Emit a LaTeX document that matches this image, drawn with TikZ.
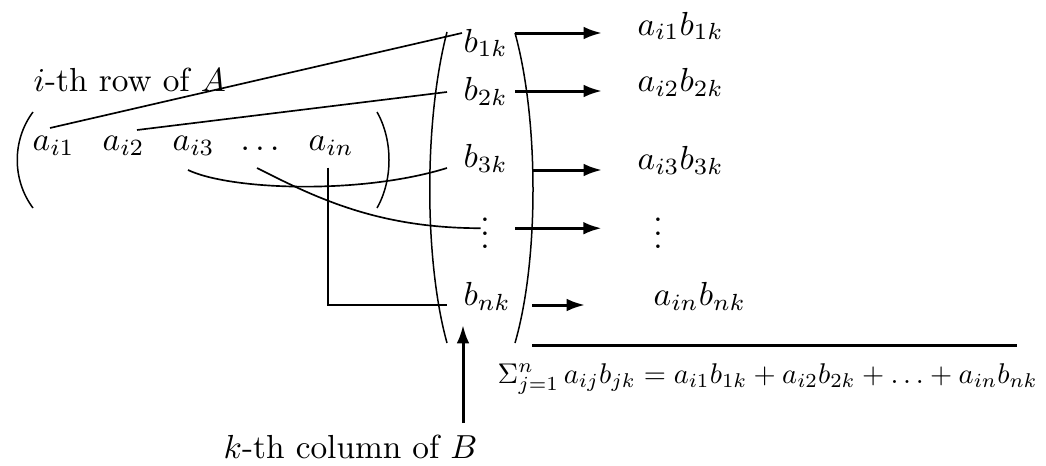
\documentclass[tikz,border=0pt]{standalone}
\usetikzlibrary{arrows.meta}
\begin{document}
\begin{tikzpicture}[x=0.3pt,y=-0.3pt,
  lbl/.style={inner sep=0pt, anchor=base west},
  vd/.style={inner sep=0pt, anchor=south},
  conn/.style={line width=0.5pt},
  brk/.style={line width=0.45pt},
  arr/.style={line width=0.9pt,-{Latex[length=5.5pt,width=3.8pt]}},
  rulel/.style={line width=0.9pt}]
\useasboundingbox (0,0) rectangle (1046,465);
% brackets
\draw[brk] (33,112) .. controls (12,140) and (12,180) .. (33,208);
\draw[brk] (377,112) .. controls (393,140) and (393,180) .. (377,208);
\draw[brk] (447,32) .. controls (424,120) and (424,260) .. (447,343);
\draw[brk] (515,33) .. controls (539,120) and (539,260) .. (515,343);
% labels
\node[lbl] (rowA) at (33,91) {$i$-th row of $A$};
\node[lbl] (a1) at (32,150) {$a_{i1}$};
\node[lbl] (a2) at (102,150) {$a_{i2}$};
\node[lbl] (a3) at (172,150) {$a_{i3}$};
\node[lbl] (adots) at (240,150) {$\ldots$};
\node[lbl] (an) at (308,150) {$a_{in}$};
\node[lbl] (b1) at (463,52) {$b_{1k}$};
\node[lbl] (b2) at (463,100) {$b_{2k}$};
\node[lbl] (b3) at (463,167) {$b_{3k}$};
\node[vd] (bdots) at (485,249) {$\vdots$};
\node[lbl] (bn) at (463,305) {$b_{nk}$};
\node[lbl] (p1) at (637,35) {$a_{i1}b_{1k}$};
\node[lbl] (p2) at (637,91) {$a_{i2}b_{2k}$};
\node[lbl] (p3) at (637,169) {$a_{i3}b_{3k}$};
\node[vd] (pdots) at (658,249) {$\vdots$};
\node[lbl] (pn) at (653,305) {$a_{in}b_{nk}$};
\node[lbl] (kcol) at (223,458) {$k$-th column of $B$};
\node[lbl] (sum) at (497,383) {\resizebox{162pt}{!}{$\Sigma_{j=1}^{n}\,a_{ij}b_{jk} = a_{i1}b_{1k}+a_{i2}b_{2k}+\ldots+a_{in}b_{nk}$}};
% connectors from row of A to column of B
\draw[conn] ([shift={(18,-22)}]a1.base west) -- ([shift={(-1,-19)}]b1.base west);
\draw[conn] ([shift={(35,-20)}]a2.base west) -- ([shift={(-16,-8)}]b2.base west);
\draw[conn] ([shift={(16,20)}]a3.base west) .. controls (230,190) and (360,195) .. ([shift={(-16,1)}]b3.base west);
\draw[conn] ([shift={(17,18)}]adots.base west) .. controls (320,200) and (380,228) .. ([shift={(1,5)}]bdots.west);
\draw[conn] ([shift={(-3,12)}]an.south) |- ([shift={(-16,0)}]bn.base west);
% arrows to products
\draw[arr] ([shift={(52,-19)}]b1.base west) -- ([shift={(-35,-2)}]p1.base west);
\draw[arr] ([shift={(52,-9)}]b2.base west) -- ([shift={(-35,0)}]p2.base west);
\draw[arr] ([shift={(70,3)}]b3.base west) -- ([shift={(-35,1)}]p3.base west);
\draw[arr] ([shift={(25,5)}]bdots.east) -- ([shift={(-51,5)}]pdots.west);
\draw[arr] ([shift={(69,0)}]bn.base west) -- ([shift={(-68,0)}]pn.base west);
% column arrow
\draw[arr] ([shift={(240,-35)}]kcol.base west) -- ([shift={(0,20)}]bn.base west);
% rule above sum
\draw[rulel] ([shift={(35,-38)}]sum.base west) -- ([shift={(520,-38)}]sum.base west);
\end{tikzpicture}
\end{document}
